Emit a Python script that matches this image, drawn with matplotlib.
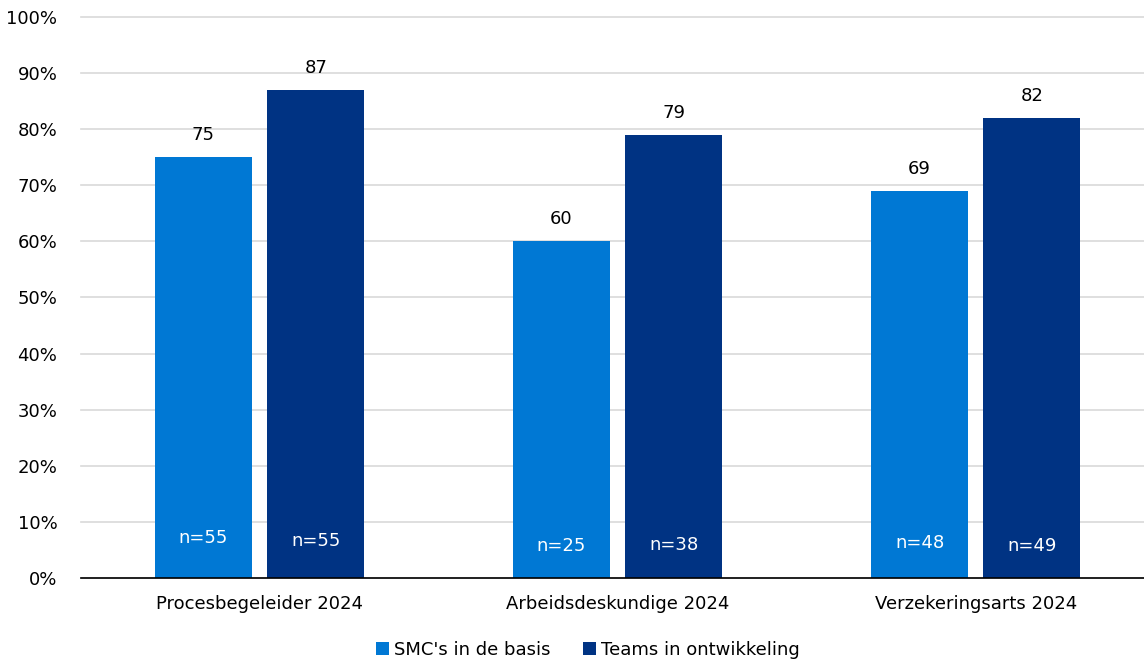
import numpy as np
import matplotlib.pyplot as plt
from matplotlib.ticker import PercentFormatter

categories = ['Procesbegeleider 2024', 'Arbeidsdeskundige 2024', 'Verzekeringsarts 2024']
series_names = ["SMC's in de basis", 'Teams in ontwikkeling']
smc_values = [75, 60, 69]
teams_values = [87, 79, 82]
smc_n = ['n=55', 'n=25', 'n=48']
teams_n = ['n=55', 'n=38', 'n=49']
smc_n_y = [7.1, 5.7, 6.2]
teams_n_y = [6.6, 5.9, 5.7]

LIGHT = '#0078D4'
DARK = '#003383'

plt.rcParams['font.family'] = ['DejaVu Sans']
fig = plt.figure(figsize=(11.44, 6.61), dpi=100)
ax = fig.add_axes([0.0708, 0.1256, 0.9292, 0.8487])

x = np.arange(len(categories))
w = 0.271
off = 0.157

b1 = ax.bar(x - off, smc_values, w, color=LIGHT, label=series_names[0], zorder=3)
b2 = ax.bar(x + off, teams_values, w, color=DARK, label=series_names[1], zorder=3)

for xi, v in zip(x - off, smc_values):
    ax.text(xi, v + 2.3, str(v), ha='center', va='bottom', fontsize=13, color='#000000')
for xi, v in zip(x + off, teams_values):
    ax.text(xi, v + 2.3, str(v), ha='center', va='bottom', fontsize=13, color='#000000')
for xi, t, yy in zip(x - off, smc_n, smc_n_y):
    ax.text(xi, yy, t, ha='center', va='center', fontsize=13, color='white', zorder=4)
for xi, t, yy in zip(x + off, teams_n, teams_n_y):
    ax.text(xi, yy, t, ha='center', va='center', fontsize=13, color='white', zorder=4)

ax.set_ylim(0, 100)
ax.set_xlim(-0.499, 2.47)
ax.set_yticks(np.arange(0, 101, 10))
ax.yaxis.set_major_formatter(PercentFormatter(decimals=0))
ax.set_xticks(x)
ax.set_xticklabels(categories)
ax.tick_params(axis='both', length=0, labelsize=13, colors='#000000')
ax.tick_params(axis='x', pad=12)
ax.tick_params(axis='y', pad=17)
ax.grid(axis='y', color='#D9D9D9', linewidth=1.2, zorder=0)
for gl in ax.yaxis.get_gridlines():
    gl.set_clip_on(False)
for s in ['top', 'right', 'left']:
    ax.spines[s].set_visible(False)
ax.spines['bottom'].set_color('#000000')
ax.spines['bottom'].set_linewidth(1.2)
ax.spines['bottom'].set_zorder(5)

ax.legend(loc='center', bbox_to_anchor=(0.477, -0.128), ncol=2, frameon=False,
          fontsize=13, handlelength=0.7, handleheight=0.7, handletextpad=0.3,
          columnspacing=1.8)

fig.savefig('out.png', dpi=100)
